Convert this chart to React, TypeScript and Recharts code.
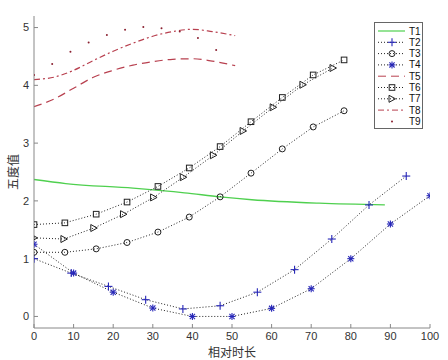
import React from 'react';
import { LineChart, Line, XAxis, YAxis } from 'recharts';

const xTicks = [0, 10, 20, 30, 40, 50, 60, 70, 80, 90, 100];
const yTicks = [0, 1, 2, 3, 4, 5];

// T1 green smooth line
const t1X = [0, 8, 25, 38, 47, 55, 72, 88.6];
const t1Y = [2.37, 2.3, 2.22, 2.14, 2.07, 2.02, 1.96, 1.93];
// T2 blue plus
const t2X = [0, 9.4, 18.8, 28.2, 37.6, 47, 56.4, 65.8, 75.2, 84.6, 94];
const t2Y = [1.0, 0.75, 0.52, 0.29, 0.13, 0.185, 0.42, 0.81, 1.34, 1.93, 2.43];
// T3 circles
const t3X = [0, 7.8, 15.7, 23.5, 31.3, 39.2, 47, 54.8, 62.7, 70.5, 78.3];
const t3Y = [1.11, 1.11, 1.17, 1.28, 1.46, 1.72, 2.07, 2.48, 2.9, 3.28, 3.56];
// T4 blue asterisk
const t4X = [0, 10, 20, 30, 40, 50, 60, 70, 80, 90, 100];
const t4Y = [1.25, 0.75, 0.42, 0.145, 0, 0, 0.14, 0.48, 1.0, 1.6, 2.09];
// T5 red dashed
const t5X = [0, 5, 10, 15, 20, 25, 30, 35, 40, 45, 50.8];
const t5Y = [3.63, 3.76, 3.95, 4.14, 4.26, 4.35, 4.41, 4.45, 4.46, 4.42, 4.34];
// T6 squares
const t6X = [0, 7.8, 15.7, 23.5, 31.3, 39.2, 47, 54.8, 62.7, 70.5, 78.3];
const t6Y = [1.59, 1.62, 1.77, 1.98, 2.25, 2.57, 2.94, 3.37, 3.79, 4.18, 4.44];
// T7 triangles
const t7X = [0, 7.55, 15.1, 22.6, 30.2, 37.7, 45.3, 52.8, 60.4, 67.9, 75.5];
const t7Y = [1.36, 1.34, 1.53, 1.77, 2.06, 2.41, 2.79, 3.21, 3.62, 4.01, 4.3];
// T8 red dash-dot
const t8X = [0, 5, 10, 15, 20, 25, 30, 35, 40, 45, 50.8];
const t8Y = [4.1, 4.14, 4.26, 4.43, 4.59, 4.73, 4.85, 4.93, 4.97, 4.93, 4.86];
// T9 dots
const t9X = [0, 4.6, 9.2, 13.8, 18.4, 23, 27.6, 32.2, 36.8, 41.4, 46];
const t9Y = [4.18, 4.37, 4.58, 4.74, 4.87, 4.96, 5.01, 4.99, 4.93, 4.82, 4.61];

const legendNames = ['T1', 'T2', 'T3', 'T4', 'T5', 'T6', 'T7', 'T8', 'T9'];

const rows = (xs: number[], ys: number[]) => xs.map((x, i) => ({ x, y: ys[i] }));

const BLUE = '#2626b8';
const DARK = '#222';
const RED = '#b8404f';
const GREEN = '#4fd04f';
const DOTTED = '1 2';

const plus = (cx: number, cy: number, key?: any) => (
  <g key={key}>
    <line x1={cx - 4} y1={cy} x2={cx + 4} y2={cy} stroke={BLUE} strokeWidth={1.1} />
    <line x1={cx} y1={cy - 4} x2={cx} y2={cy + 4} stroke={BLUE} strokeWidth={1.1} />
  </g>
);
const star = (cx: number, cy: number, key?: any) => (
  <g key={key} stroke={BLUE} strokeWidth={1.1}>
    <line x1={cx - 3.5} y1={cy} x2={cx + 3.5} y2={cy} />
    <line x1={cx} y1={cy - 3.5} x2={cx} y2={cy + 3.5} />
    <line x1={cx - 2.6} y1={cy - 2.6} x2={cx + 2.6} y2={cy + 2.6} />
    <line x1={cx - 2.6} y1={cy + 2.6} x2={cx + 2.6} y2={cy - 2.6} />
  </g>
);
const circle = (cx: number, cy: number, key?: any) => (
  <circle key={key} cx={cx} cy={cy} r={3} fill="none" stroke={DARK} strokeWidth={1} />
);
const square = (cx: number, cy: number, key?: any) => (
  <rect key={key} x={cx - 2.8} y={cy - 2.8} width={5.6} height={5.6} fill="none" stroke={DARK} strokeWidth={1} />
);
const tri = (cx: number, cy: number, key?: any) => (
  <polygon key={key} points={`${cx - 3},${cy - 3.5} ${cx + 3.5},${cy} ${cx - 3},${cy + 3.5}`} fill="none" stroke={DARK} strokeWidth={1} />
);
const point = (cx: number, cy: number, key?: any) => (
  <circle key={key} cx={cx} cy={cy} r={1} fill="#8a2030" />
);

const dotFn = (shape: (cx: number, cy: number, key?: any) => React.ReactElement) => (p: any) =>
  shape(p.cx, p.cy, `d-${p.index}`);

const legendStyle = [
  { stroke: GREEN, dash: undefined, mark: null },
  { stroke: DARK, dash: DOTTED, mark: plus },
  { stroke: DARK, dash: DOTTED, mark: circle },
  { stroke: DARK, dash: DOTTED, mark: star },
  { stroke: RED, dash: '8 5', mark: null },
  { stroke: DARK, dash: DOTTED, mark: square },
  { stroke: DARK, dash: DOTTED, mark: tri },
  { stroke: RED, dash: '6 3 2 3', mark: null },
  { stroke: 'none', dash: undefined, mark: point },
];

const axisTick = { fontSize: 11, fill: '#333', fontFamily: 'Liberation Sans, Arial, sans-serif' };
const labelFont = { fontSize: 12, fill: '#333', fontFamily: 'Noto Sans CJK SC, sans-serif' };

export default function App() {
  return (
    <div style={{ position: 'absolute', left: 0, top: 0, width: 448, height: 360, background: '#fff' }}>
      <LineChart width={448} height={360} margin={{ top: 16, right: 18, bottom: 0, left: 8 }}>
        <XAxis
          xAxisId="b"
          type="number"
          dataKey="x"
          domain={[0, 100]}
          ticks={xTicks}
          height={32}
          stroke="#888"
          tickSize={-4}
          tickMargin={8}
          tick={axisTick}
          allowDataOverflow
          label={{ value: '相对时长', position: 'center', dy: 9, style: labelFont }}
        />
        <XAxis
          xAxisId="t"
          orientation="top"
          type="number"
          dataKey="x"
          domain={[0, 100]}
          ticks={xTicks}
          height={0}
          stroke="#888"
          tickSize={-4}
          tickFormatter={() => ''}
        />
        <YAxis
          yAxisId="l"
          type="number"
          domain={[-0.2, 5.2]}
          ticks={yTicks}
          width={26}
          stroke="#888"
          tickSize={-4}
          tickMargin={9}
          tick={axisTick}
          allowDataOverflow
          label={{ value: '五度值', angle: -90, position: 'center', dx: -7, style: labelFont }}
        />
        <YAxis
          yAxisId="r"
          orientation="right"
          type="number"
          domain={[-0.2, 5.2]}
          ticks={yTicks}
          width={0}
          stroke="#888"
          tickSize={-4}
          tickFormatter={() => ''}
        />
        <Line xAxisId="b" yAxisId="l" data={rows(t1X, t1Y)} dataKey="y" type="monotone" stroke={GREEN} strokeWidth={1.3} dot={false} isAnimationActive={false} />
        <Line xAxisId="b" yAxisId="l" data={rows(t2X, t2Y)} dataKey="y" type="linear" stroke={DARK} strokeWidth={1} strokeDasharray={DOTTED} dot={dotFn(plus)} isAnimationActive={false} />
        <Line xAxisId="b" yAxisId="l" data={rows(t3X, t3Y)} dataKey="y" type="linear" stroke={DARK} strokeWidth={1} strokeDasharray={DOTTED} dot={dotFn(circle)} isAnimationActive={false} />
        <Line xAxisId="b" yAxisId="l" data={rows(t4X, t4Y)} dataKey="y" type="linear" stroke={DARK} strokeWidth={1} strokeDasharray={DOTTED} dot={dotFn(star)} isAnimationActive={false} />
        <Line xAxisId="b" yAxisId="l" data={rows(t5X, t5Y)} dataKey="y" type="monotone" stroke={RED} strokeWidth={1.2} strokeDasharray="8 5" dot={false} isAnimationActive={false} />
        <Line xAxisId="b" yAxisId="l" data={rows(t6X, t6Y)} dataKey="y" type="linear" stroke={DARK} strokeWidth={1} strokeDasharray={DOTTED} dot={dotFn(square)} isAnimationActive={false} />
        <Line xAxisId="b" yAxisId="l" data={rows(t7X, t7Y)} dataKey="y" type="linear" stroke={DARK} strokeWidth={1} strokeDasharray={DOTTED} dot={dotFn(tri)} isAnimationActive={false} />
        <Line xAxisId="b" yAxisId="l" data={rows(t8X, t8Y)} dataKey="y" type="monotone" stroke={RED} strokeWidth={1.2} strokeDasharray="6 3 2 3" dot={false} isAnimationActive={false} />
        <Line xAxisId="b" yAxisId="l" data={rows(t9X, t9Y)} dataKey="y" type="linear" stroke="none" dot={dotFn(point)} isAnimationActive={false} />
      </LineChart>
      <svg width={50} height={108} style={{ position: 'absolute', left: 374, top: 22 }}>
        <rect x={0.5} y={0.5} width={48} height={106} fill="#fff" stroke="#666" strokeWidth={1} />
        {legendNames.map((name, i) => {
          const s = legendStyle[i];
          const cy = 9 + i * 11.3;
          return (
            <g key={name}>
              <line x1={4} y1={cy} x2={31} y2={cy} stroke={s.stroke} strokeWidth={s.stroke === GREEN ? 1.2 : 1} strokeDasharray={s.dash} />
              {s.mark ? s.mark(18, cy) : null}
              <text x={35} y={cy + 3.5} fontSize={10} fill="#111" fontFamily="Liberation Sans, Arial, sans-serif">{name}</text>
            </g>
          );
        })}
      </svg>
    </div>
  );
}
